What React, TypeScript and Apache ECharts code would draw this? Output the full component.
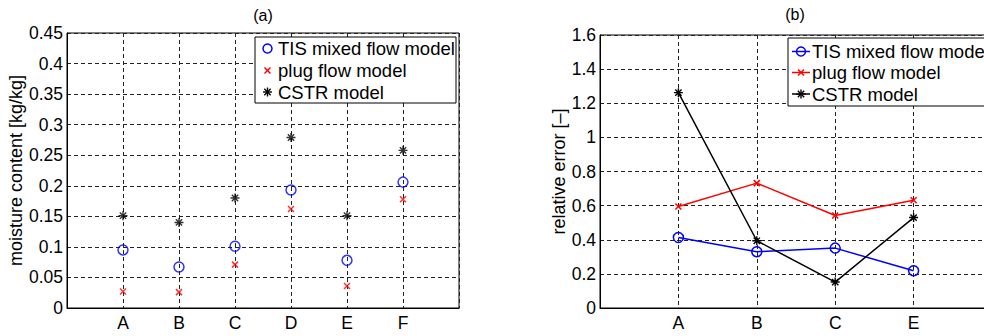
import React, { useEffect, useRef } from "react";
import * as echarts from "echarts";

// ---- data ----
const leftCategories = ["A", "B", "C", "D", "E", "F"];
const leftTIS = [0.095, 0.067, 0.101, 0.193, 0.078, 0.206];
const leftPlug = [0.027, 0.026, 0.071, 0.162, 0.036, 0.178];
const leftCSTR = [0.151, 0.14, 0.18, 0.279, 0.151, 0.258];

const rightCategories = ["A", "B", "C", "E"];
const rightTIS = [0.413, 0.33, 0.351, 0.218];
const rightPlug = [0.595, 0.732, 0.542, 0.632];
const rightCSTR = [1.262, 0.394, 0.152, 0.53];

const seriesNames = ["TIS mixed flow model", "plug flow model", "CSTR model"];
const leftTitle = "(a)";
const rightTitle = "(b)";
const leftYName = "moisture content [kg/kg]";
const rightYName = "relative error [–]";

const BLUE = "#0000ff";
const RED = "#ff0000";
const BLACK = "#000000";
const FONT = "Liberation Sans, Arial, Helvetica, sans-serif";

const X_PATH = "path://M0,0L10,10M10,0L0,10";
const STAR_PATH = "path://M5,0L5,10M0,5L10,5M1.5,1.5L8.5,8.5M8.5,1.5L1.5,8.5";

const toPairs = (vals: number[]) => vals.map((v, i) => [i + 1, v]);

export default function App() {
  const ref = useRef<HTMLDivElement>(null);

  useEffect(() => {
    if (!ref.current) return;
    const chart = echarts.init(ref.current, undefined, { renderer: "svg" });

    const split = {
      show: true,
      lineStyle: { color: "#222", width: 1, type: [4, 3] as any },
    };
    const labelStyle = { color: BLACK, fontSize: 17.5, fontFamily: FONT };

    const xAxisBase = (gridIndex: number, max: number, cats: string[]) => ({
      type: "value",
      gridIndex,
      min: 0,
      max,
      interval: 1,
      axisLine: { show: true, onZero: false, lineStyle: { color: BLACK, width: 1 } },
      axisTick: { show: false },
      splitLine: split,
      axisLabel: {
        ...labelStyle,
        margin: 6,
        formatter: (v: number) => (v >= 1 && v <= cats.length ? cats[v - 1] : ""),
      },
    });

    const yAxisBase = (gridIndex: number, max: number, interval: number, name: string, nameGap: number) => ({
      type: "value",
      gridIndex,
      min: 0,
      max,
      interval,
      name,
      nameLocation: "middle",
      nameGap,
      nameTextStyle: { color: BLACK, fontSize: 18, fontFamily: FONT },
      axisLine: { show: true, onZero: false, lineStyle: { color: BLACK, width: 1 } },
      axisTick: { show: false },
      splitLine: split,
      axisLabel: { ...labelStyle, margin: 4 },
    });

    const Z = 100;
    const legendGraphic = (
      x: number,
      y: number,
      w: number,
      h: number,
      rowY: number[],
      withLines: boolean
    ) => {
      const children: any[] = [
        {
          type: "rect",
          z: Z,
          shape: { x: 0, y: 0, width: w, height: h },
          style: { fill: "#fff", stroke: BLACK, lineWidth: 1 },
        },
      ];
      const colors = [BLUE, RED, BLACK];
      const cx = withLines ? 13 : 12.5;
      const textX = withLines ? 24 : 23;
      rowY.forEach((ry, i) => {
        if (withLines) {
          children.push({
            type: "line",
            z: Z + 1,
            shape: { x1: 4, y1: ry, x2: 22, y2: ry },
            style: { stroke: colors[i], lineWidth: 1.5 },
          });
        }
        if (i === 0) {
          children.push({
            type: "circle",
            z: Z + 2,
            shape: { cx, cy: ry, r: 4.5 },
            style: { fill: "none", stroke: BLUE, lineWidth: 1.5 },
          });
        } else if (i === 1) {
          const s = 3;
          children.push({
            type: "line",
            z: Z + 2,
            shape: { x1: cx - s, y1: ry - s, x2: cx + s, y2: ry + s },
            style: { stroke: RED, lineWidth: 1.5 },
          });
          children.push({
            type: "line",
            z: Z + 2,
            shape: { x1: cx + s, y1: ry - s, x2: cx - s, y2: ry + s },
            style: { stroke: RED, lineWidth: 1.5 },
          });
        } else {
          const s = 4.5;
          const d = 3.2;
          [
            [cx, ry - s, cx, ry + s],
            [cx - s, ry, cx + s, ry],
            [cx - d, ry - d, cx + d, ry + d],
            [cx + d, ry - d, cx - d, ry + d],
          ].forEach(([x1, y1, x2, y2]) =>
            children.push({
              type: "line",
              z: Z + 2,
              shape: { x1, y1, x2, y2 },
              style: { stroke: BLACK, lineWidth: 1.4 },
            })
          );
        }
        children.push({
          type: "text",
          z: Z + 2,
          x: textX,
          y: ry,
          style: {
            text: seriesNames[i],
            fill: BLACK,
            fontSize: 18.5,
            fontFamily: FONT,
            textVerticalAlign: "middle",
            textAlign: "left",
          },
        });
      });
      return { type: "group", x, y, z: Z, children };
    };

    const option: any = {
      animation: false,
      backgroundColor: "#fff",
      grid: [
        { left: 67, width: 392, top: 33, bottom: 28, outerBoundsMode: "none", containLabel: false, show: true, borderColor: BLACK, borderWidth: 1, backgroundColor: "transparent" },
        { left: 600, width: 392, top: 35, bottom: 28, outerBoundsMode: "none", containLabel: false, show: true, borderColor: BLACK, borderWidth: 1, backgroundColor: "transparent" },
      ],
      xAxis: [xAxisBase(0, 7, leftCategories), xAxisBase(1, 5, rightCategories)],
      yAxis: [
        yAxisBase(0, 0.45, 0.05, leftYName, 40),
        yAxisBase(1, 1.6, 0.2, rightYName, 29),
      ],
      series: [
        {
          name: seriesNames[0],
          type: "scatter",
          xAxisIndex: 0,
          yAxisIndex: 0,
          symbol: "circle",
          symbolSize: 10,
          itemStyle: { color: "transparent", borderColor: BLUE, borderWidth: 1.5 },
          data: toPairs(leftTIS),
        },
        {
          name: seriesNames[1],
          type: "scatter",
          xAxisIndex: 0,
          yAxisIndex: 0,
          symbol: X_PATH,
          symbolSize: 6,
          itemStyle: { color: "transparent", borderColor: RED, borderWidth: 1.5 },
          data: toPairs(leftPlug),
        },
        {
          name: seriesNames[2],
          type: "scatter",
          xAxisIndex: 0,
          yAxisIndex: 0,
          symbol: STAR_PATH,
          symbolSize: 9,
          itemStyle: { color: "transparent", borderColor: BLACK, borderWidth: 1.4 },
          data: toPairs(leftCSTR),
        },
        {
          name: seriesNames[0],
          type: "line",
          xAxisIndex: 1,
          yAxisIndex: 1,
          symbol: "circle",
          symbolSize: 10,
          showAllSymbol: true,
          lineStyle: { color: BLUE, width: 1.5 },
          itemStyle: { color: "transparent", borderColor: BLUE, borderWidth: 1.5 },
          data: toPairs(rightTIS),
        },
        {
          name: seriesNames[1],
          type: "line",
          xAxisIndex: 1,
          yAxisIndex: 1,
          symbol: X_PATH,
          symbolSize: 6,
          showAllSymbol: true,
          lineStyle: { color: RED, width: 1.5 },
          itemStyle: { color: "transparent", borderColor: RED, borderWidth: 1.5 },
          data: toPairs(rightPlug),
        },
        {
          name: seriesNames[2],
          type: "line",
          xAxisIndex: 1,
          yAxisIndex: 1,
          symbol: STAR_PATH,
          symbolSize: 9,
          showAllSymbol: true,
          lineStyle: { color: BLACK, width: 1.5 },
          itemStyle: { color: "transparent", borderColor: BLACK, borderWidth: 1.4 },
          data: toPairs(rightCSTR),
        },
      ],
      graphic: [
        {
          type: "text",
          x: 263,
          y: 15,
          style: { text: leftTitle, fill: BLACK, fontSize: 16, fontFamily: FONT, textAlign: "center", textVerticalAlign: "middle" },
        },
        {
          type: "text",
          x: 795,
          y: 14,
          style: { text: rightTitle, fill: BLACK, fontSize: 16, fontFamily: FONT, textAlign: "center", textVerticalAlign: "middle" },
        },
        legendGraphic(255, 37, 201, 66, [11.5, 33.5, 55], false),
        legendGraphic(788, 38, 210, 68, [13.5, 34.5, 56], true),
      ],
    };

    chart.setOption(option);
    return () => chart.dispose();
  }, []);

  return <div ref={ref} style={{ width: 984, height: 336, position: "absolute", left: 0, top: 0 }} />;
}
